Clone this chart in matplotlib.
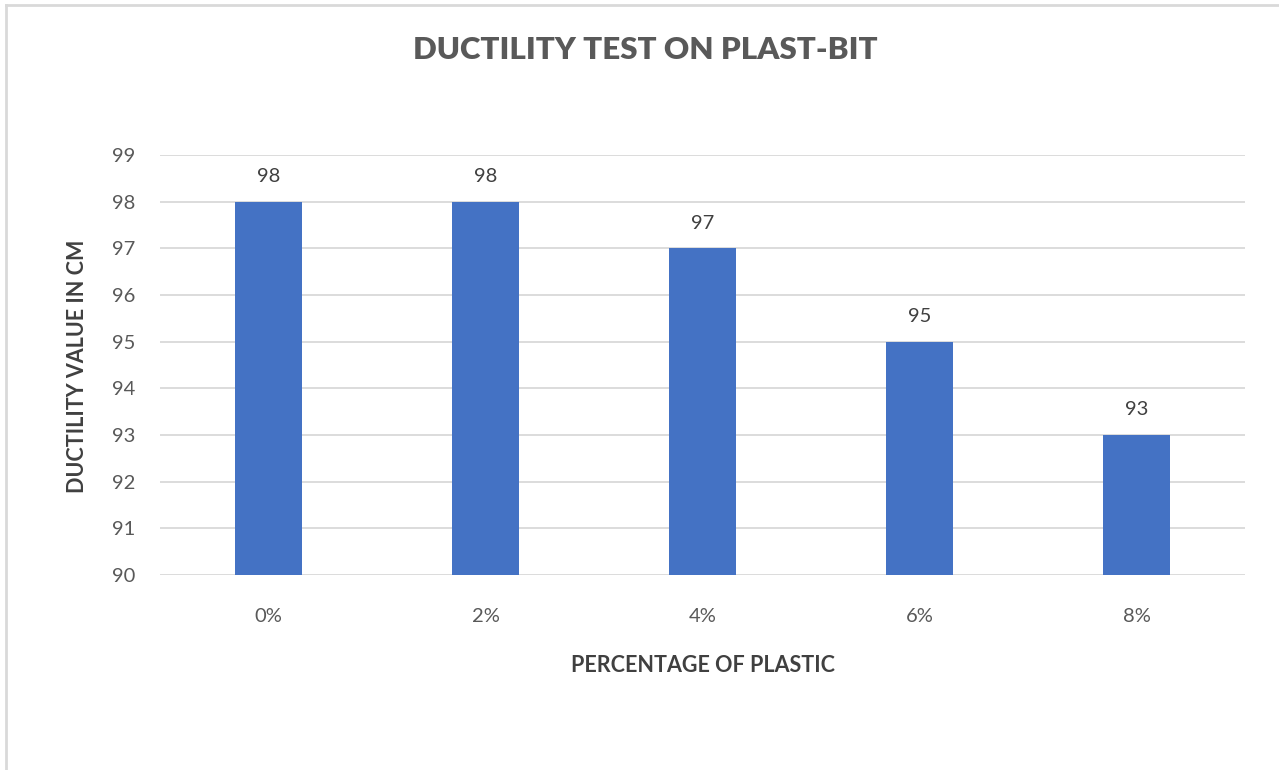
import matplotlib.pyplot as plt
from matplotlib.lines import Line2D

plt.rcParams['font.family'] = ['Lato', 'DejaVu Sans']

# 延度试验数据
categories = ['0%', '2%', '4%', '6%', '8%']
ductility = [98, 98, 97, 95, 93]
y_ticks = [90, 91, 92, 93, 94, 95, 96, 97, 98, 99]

text_color = '#595959'
bar_color = '#4472C4'
grid_color = '#D9D9D9'

fig = plt.figure(figsize=(12.79, 7.70), dpi=100)
ax = fig.add_axes([160 / 1279, 1 - 575 / 770, 1085 / 1279, 420 / 770])

x = range(len(categories))
bars = ax.bar(x, ductility, width=0.31, color=bar_color, zorder=3)

ax.set_xlim(-0.5, len(categories) - 0.5)
ax.set_ylim(90, 99)
ax.set_yticks(y_ticks)
ax.set_xticks(list(x))
ax.set_xticklabels(categories)
ax.tick_params(axis='both', length=0, labelsize=14.5, colors=text_color)
ax.tick_params(axis='x', pad=24)
ax.tick_params(axis='y', pad=18)
ax.grid(axis='y', color=grid_color, linewidth=1.3, zorder=0)
for side in ['top', 'right', 'left', 'bottom']:
    ax.spines[side].set_visible(False)

# 柱顶数值标签
for bar, v in zip(bars, ductility):
    ax.annotate(f'{v}', xy=(bar.get_x() + bar.get_width() / 2, v),
                xytext=(0, 12), textcoords='offset points',
                ha='center', va='bottom', fontsize=14.5, color='#404040')

fig.text(645 / 1279, 1 - 50 / 770, 'DUCTILITY TEST ON PLAST-BIT',
         ha='center', va='center', fontsize=22.5, fontweight='heavy', color=text_color)
fig.text(703 / 1279, 1 - 666 / 770, 'PERCENTAGE OF PLASTIC',
         ha='center', va='center', fontsize=15.5, fontweight='bold', color='#404040')
fig.text(77 / 1279, 1 - 366 / 770, 'DUCTILITY VALUE IN CM', rotation=90,
         ha='center', va='center', fontsize=15.5, fontweight='bold', color='#404040')

# 图表外框（左、上两边）
fig.add_artist(Line2D([6 / 1279, 6 / 1279], [0, 1 - 5 / 770], color='#D9D9D9',
                      linewidth=2, transform=fig.transFigure))
fig.add_artist(Line2D([6 / 1279, 1], [1 - 5 / 770, 1 - 5 / 770], color='#D9D9D9',
                      linewidth=2, transform=fig.transFigure))

fig.savefig('out.png', dpi=100, facecolor='white')
